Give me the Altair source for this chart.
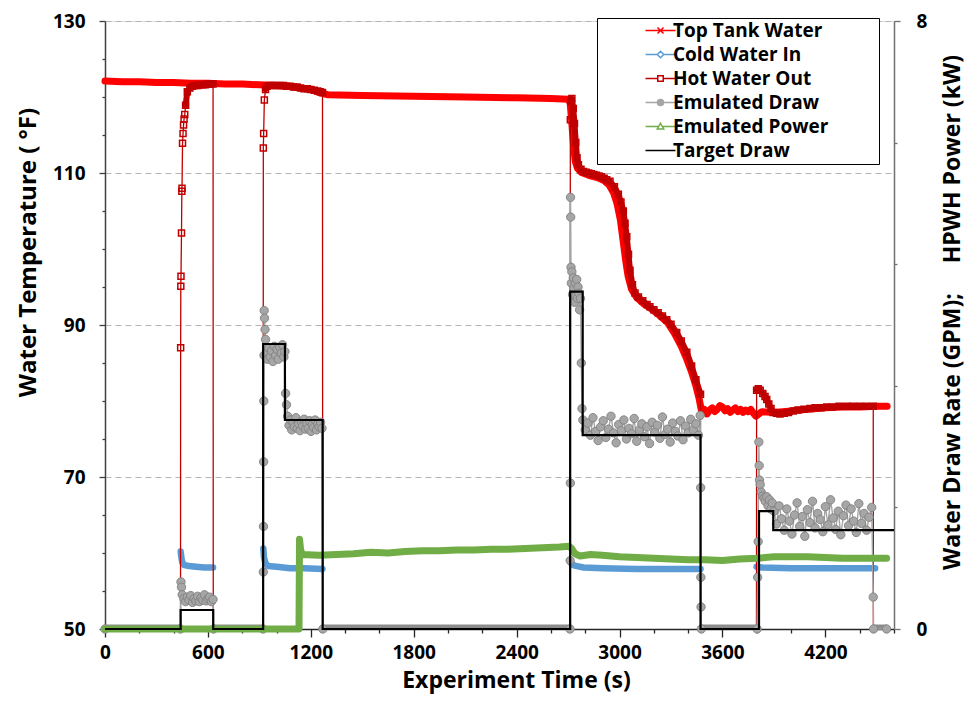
import altair as alt
import pandas as pd

SERIES = ["Top Tank Water", "Cold Water In", "Hot Water Out",
          "Emulated Draw", "Emulated Power", "Target Draw"]
COLORS = ["#FF0000", "#5B9BD5", "#C00000", "#A5A5A5", "#70AD47", "#000000"]
FILLS = ["transparent", "white", "white", "#A6A6A6", "white", "transparent"]
SYMBOLS = [
    "M-3,0H3M-0.6,-0.6L0.6,0.6M-0.6,0.6L0.6,-0.6",
    "M-3,0H-0.65M0.65,0H3M0,-0.65L0.65,0L0,0.65L-0.65,0Z",
    "M-3,0H-0.55M0.55,0H3M-0.55,-0.55H0.55V0.55H-0.55Z",
    "M-3,0H-0.6M0.6,0H3M0.6,0A0.6,0.6,0,1,1,-0.6,0A0.6,0.6,0,1,1,0.6,0Z",
    "M-3,0H-0.37M0.37,0H3M0,-0.65L0.65,0.5H-0.65Z",
    "M-3,0H3",
]

# (time s, °F)
TANK = [(0, 122.1), (100, 122.0), (200, 122.0), (300, 121.9), (400, 121.9), (500, 121.8),
        (600, 121.8), (700, 121.7), (800, 121.7), (900, 121.6), (1000, 121.5), (1100, 121.3),
        (1200, 121.0), (1260, 120.5), (1300, 120.3), (1500, 120.2), (1800, 120.1), (2100, 120.0),
        (2400, 119.9), (2600, 119.8), (2700, 119.7), (2712, 119.2), (2722, 116.5), (2732, 113.5),
        (2742, 111.5), (2755, 110.6), (2775, 110.1), (2820, 109.7), (2870, 109.4), (2910, 109.0),
        (2940, 108.4), (2965, 107.4), (2985, 106.0), (3005, 103.8), (3020, 101.2), (3035, 98.6),
        (3050, 96.4), (3070, 94.7), (3100, 93.6), (3140, 92.8), (3180, 92.2), (3230, 91.3),
        (3280, 90.3), (3320, 88.9), (3360, 87.2), (3390, 85.6), (3420, 83.8), (3445, 82.0),
        (3465, 80.2), (3480, 78.4), (3495, 78.9), (3510, 78.3), (3525, 78.8), (3540, 79.1),
        (3555, 78.6), (3570, 78.9), (3585, 79.4), (3600, 79.2), (3615, 78.7), (3630, 79.0),
        (3645, 78.5), (3660, 78.8), (3675, 79.1), (3690, 78.6), (3705, 78.9), (3720, 78.5),
        (3735, 78.8), (3750, 78.6), (3765, 78.9), (3780, 78.4), (3795, 78.0), (3830, 78.6),
        (3900, 78.5), (4000, 78.7), (4100, 78.9), (4200, 79.1), (4300, 79.2), (4400, 79.2),
        (4500, 79.3), (4560, 79.3)]

HOT = [(0, 0), (439, 0),
       (441, 87.0), (442, 95.1), (443, 96.4), (446, 102.1), (448, 107.6), (449, 108.0),
       (452, 113.9), (455, 115.2), (458, 116.3), (461, 117.1), (465, 117.7), (470, 118.9),
       (480, 120.7), (495, 121.2), (510, 121.4), (525, 121.5), (540, 121.5), (555, 121.6),
       (570, 121.6), (585, 121.6), (600, 121.7), (615, 121.7), (630, 121.7),
       (632, 0), (921, 0),
       (923, 113.3), (925, 115.2), (929, 119.6), (936, 121.0), (945, 121.4), (960, 121.5),
       (980, 121.5), (1000, 121.5), (1020, 121.5), (1040, 121.5), (1060, 121.4), (1080, 121.4),
       (1100, 121.3), (1120, 121.3), (1140, 121.2), (1160, 121.1), (1180, 121.1), (1200, 121.0),
       (1220, 120.9), (1240, 120.8), (1255, 120.7), (1268, 120.6),
       (1270, 0), (2710, 0),
       (2713, 117.0), (2716, 119.4), (2722, 119.8), (2730, 118.5), (2737, 116.5), (2745, 114.0),
       (2752, 112.0), (2760, 111.1), (2775, 110.5), (2790, 110.2), (2805, 110.1), (2820, 110.0),
       (2835, 109.9), (2850, 109.8), (2865, 109.7), (2880, 109.6), (2895, 109.5), (2910, 109.3),
       (2925, 109.1), (2944, 108.9), (2970, 108.2), (2993, 107.2), (3008, 106.2), (3022, 105.0),
       (3032, 103.4), (3042, 101.6), (3052, 99.3), (3061, 97.2), (3075, 95.3), (3090, 94.2),
       (3110, 93.7), (3135, 93.2), (3160, 92.7), (3177, 92.4), (3200, 92.0), (3225, 91.6),
       (3250, 91.2), (3275, 90.7), (3300, 90.1), (3333, 89.0), (3360, 87.9), (3392, 86.4),
       (3420, 84.6), (3445, 82.8), (3472, 80.9),
       (3474, 0), (3797, 0),
       (3799, 81.4), (3809, 81.6), (3820, 81.4), (3835, 81.0), (3848, 80.6), (3858, 80.2),
       (3870, 79.6), (3883, 79.0), (3896, 78.5), (3915, 78.4), (3935, 78.3), (3960, 78.4),
       (3985, 78.5), (4013, 78.7), (4040, 78.8), (4075, 78.9), (4110, 79.0), (4140, 79.1),
       (4175, 79.1), (4208, 79.2), (4240, 79.2), (4280, 79.3), (4324, 79.3), (4360, 79.3),
       (4400, 79.3), (4440, 79.3), (4479, 79.3),
       (4481, 0), (4560, 0)]

# stretches where the hot-water readings are so dense that their markers merge (start s, end s)
HOT_DENSE = [(470, 630), (936, 1268), (2716, 3472), (3799, 4479)]

# (draw no., time s, °F)
COLD = [(1, 441, 60.2), (1, 444, 59.6), (1, 450, 58.8), (1, 462, 58.4), (1, 490, 58.3),
        (1, 530, 58.2), (1, 580, 58.1), (1, 630, 58.1),
        (2, 923, 60.6), (2, 927, 59.4), (2, 935, 58.7), (2, 950, 58.3), (2, 1000, 58.2),
        (2, 1080, 58.0), (2, 1160, 58.0), (2, 1268, 57.9),
        (3, 2713, 58.8), (3, 2722, 58.5), (3, 2745, 58.3), (3, 2790, 58.1), (3, 2900, 58.0),
        (3, 3100, 57.9), (3, 3300, 57.9), (3, 3472, 57.9),
        (4, 3799, 58.2), (4, 3830, 58.1), (4, 4000, 58.0), (4, 4200, 58.0), (4, 4400, 58.0),
        (4, 4490, 58.0)]

# (time s, GPM)
EMU = [(0, 0), (440, 0),
       (443, 0.62), (446, 0.55), (450, 0.45), (460, 0.40), (470, 0.36), (480, 0.42),
       (490, 0.38), (500, 0.44), (510, 0.35), (520, 0.40), (530, 0.37), (540, 0.43),
       (550, 0.36), (560, 0.41), (570, 0.38), (580, 0.45), (590, 0.37), (600, 0.40),
       (610, 0.42), (620, 0.36), (630, 0.39), (633, 0), (921, 0),
       (923, 0.75), (924, 1.35), (925, 2.2), (926, 3.0), (927, 3.6), (928, 4.19), (930, 4.09),
       (933, 3.94), (936, 3.81), (940, 3.62), (947, 3.55), (955, 3.70), (963, 3.58),
       (971, 3.66), (979, 3.52), (987, 3.72), (995, 3.60), (1003, 3.68), (1011, 3.55),
       (1019, 3.71), (1027, 3.63), (1035, 3.74), (1043, 3.58), (1049, 3.65), (1053, 3.1),
       (1058, 2.95), (1065, 2.8), (1073, 2.68), (1081, 2.75), (1089, 2.62), (1097, 2.72),
       (1105, 2.66), (1113, 2.78), (1121, 2.64), (1129, 2.70), (1137, 2.61), (1145, 2.73),
       (1153, 2.67), (1161, 2.76), (1169, 2.63), (1177, 2.70), (1185, 2.64), (1193, 2.74),
       (1201, 2.60), (1209, 2.69), (1217, 2.65), (1225, 2.75), (1233, 2.62), (1241, 2.70),
       (1249, 2.66), (1257, 2.72), (1265, 2.64), (1270, 0), (2711, 0),
       (2712, 0.9), (2713, 1.92), (2714, 5.68), (2715, 5.42), (2717, 4.76), (2719, 4.55),
       (2722, 4.70), (2726, 4.40), (2730, 4.62), (2734, 4.48), (2738, 4.30), (2742, 4.55),
       (2746, 4.38), (2750, 4.60), (2754, 4.35), (2758, 4.50), (2762, 4.42), (2767, 4.20),
       (2772, 4.35), (2777, 3.50), (2781, 2.90), (2786, 2.75),
       (2800, 2.62), (2815, 2.71), (2830, 2.55), (2845, 2.78), (2860, 2.60), (2875, 2.48),
       (2890, 2.66), (2905, 2.74), (2920, 2.52), (2935, 2.63), (2950, 2.80), (2965, 2.58),
       (2980, 2.45), (2995, 2.69), (3010, 2.61), (3025, 2.75), (3040, 2.50), (3055, 2.64),
       (3070, 2.57), (3085, 2.77), (3100, 2.47), (3115, 2.62), (3130, 2.70), (3145, 2.53),
       (3160, 2.66), (3175, 2.44), (3190, 2.72), (3205, 2.59), (3220, 2.68), (3235, 2.51),
       (3250, 2.79), (3265, 2.56), (3280, 2.63), (3295, 2.46), (3310, 2.71), (3325, 2.60),
       (3340, 2.54), (3355, 2.74), (3370, 2.49), (3385, 2.67), (3400, 2.58), (3415, 2.76),
       (3430, 2.62), (3445, 2.70), (3460, 2.55), (3470, 2.81),
       (3473, 1.86), (3474, 0.68), (3475, 0.29), (3477, 0), (3802, 0),
       (3805, 0.68), (3808, 1.15), (3812, 2.46), (3814, 2.15), (3816, 1.96), (3820, 1.90),
       (3826, 1.80), (3834, 1.75), (3842, 1.72), (3850, 1.68), (3858, 1.74), (3866, 1.62),
       (3874, 1.70), (3882, 1.58), (3890, 1.66),
       (3900, 1.55), (3915, 1.38), (3930, 1.62), (3945, 1.45), (3960, 1.30), (3975, 1.58),
       (3990, 1.42), (4005, 1.25), (4020, 1.50), (4035, 1.66), (4050, 1.35), (4065, 1.48),
       (4080, 1.22), (4095, 1.57), (4110, 1.40), (4125, 1.68), (4140, 1.33), (4155, 1.52),
       (4170, 1.44), (4185, 1.28), (4200, 1.61), (4215, 1.37), (4230, 1.70), (4245, 1.46),
       (4260, 1.31), (4275, 1.55), (4290, 1.24), (4305, 1.49), (4320, 1.63), (4335, 1.36),
       (4350, 1.58), (4365, 1.42), (4380, 1.27), (4395, 1.65), (4410, 1.39), (4425, 1.52),
       (4440, 1.30), (4455, 1.47), (4470, 1.60),
       (4479, 0.42), (4481, 0), (4557, 0)]

# periods where the emulated draw sits at zero (start s, end s)
EMU_ZERO_RUNS = [(0, 440), (633, 921), (1270, 2711), (3477, 3802), (4481, 4557)]

# (time s, kW)
POWER = [(0, 0), (300, 0), (600, 0), (900, 0), (1131, 0), (1134, 1.18), (1140, 1.05),
         (1150, 0.98), (1250, 0.97), (1350, 0.98), (1450, 0.99), (1550, 1.01), (1650, 1.00),
         (1750, 1.02), (1850, 1.03), (1950, 1.03), (2050, 1.04), (2150, 1.04), (2250, 1.05),
         (2350, 1.05), (2450, 1.06), (2550, 1.07), (2650, 1.08), (2705, 1.09), (2720, 1.06),
         (2740, 0.99), (2770, 0.96), (2830, 0.98), (2900, 0.97), (3000, 0.95), (3100, 0.94),
         (3200, 0.93), (3300, 0.92), (3400, 0.91), (3500, 0.91), (3600, 0.90), (3700, 0.92),
         (3800, 0.93), (3900, 0.95), (4000, 0.95), (4100, 0.95), (4200, 0.94), (4300, 0.93),
         (4400, 0.93), (4500, 0.93), (4557, 0.93)]

# step changes (time s, GPM)
TARGET = [(0, 0), (441, 0.25), (631, 0), (922, 3.75), (1049, 2.75), (1269, 0),
          (2712, 4.44), (2785, 2.55), (3472, 0), (3813, 1.55), (3896, 1.30), (4600, 1.30)]

X_TICKS = list(range(0, 4601, 200))
YL_TICKS = list(range(50, 131, 5))
YR_TICKS = [round(i * 0.4, 1) for i in range(21)]

FONT = "Open Sans"

tank_df = pd.DataFrame(TANK, columns=["t", "v"])
hot_df = pd.DataFrame(HOT, columns=["t", "v"])
band_rows = []
for k, (a, b) in enumerate(HOT_DENSE):
    for t, v in HOT:
        if a <= t <= b:
            band_rows.append((k, t, v))
hot_band_df = pd.DataFrame(band_rows, columns=["seg", "t", "v"])
cold_df = pd.DataFrame(COLD, columns=["seg", "t", "v"])
emu_df = pd.DataFrame(EMU, columns=["t", "v"])
zero_df = pd.DataFrame(EMU_ZERO_RUNS, columns=["t", "t2"])
power_df = pd.DataFrame(POWER, columns=["t", "v"])
target_df = pd.DataFrame(TARGET, columns=["t", "v"])
legend_df = pd.DataFrame({"series": SERIES})

x_axis = alt.Axis(
    values=X_TICKS, format="d",
    labelExpr="datum.value % 600 === 0 ? datum.label : ''",
    tickSize={"condition": {"test": "datum.value % 600 === 0", "value": 8}, "value": 4},
    labelFlush=False, labelOverlap=False, grid=False,
    labelFont=FONT, labelFontSize=19, labelFontWeight="bold", labelColor="black",
    labelPadding=6,
    title="Experiment Time (s)", titleFont=FONT, titleFontSize=23, titleFontWeight="bold",
    titleColor="black", titlePadding=7, titleX=411, titleAlign="center",
    domainColor="#262626", domainWidth=1.5, tickColor="#262626", tickWidth=1.3,
)
X = alt.X("t:Q", scale=alt.Scale(domain=[0, 4600], nice=False, zero=False), axis=x_axis)

yl_axis = alt.Axis(
    orient="left", values=YL_TICKS, format="d",
    labelExpr="(datum.value - 50) % 20 === 0 ? datum.label : ''",
    tickSize={"condition": {"test": "(datum.value - 50) % 20 === 0", "value": 6}, "value": 3},
    grid=True,
    gridOpacity={"condition": {"test": "(datum.value - 50) % 20 === 0 && datum.value > 50", "value": 1}, "value": 0},
    gridColor="#B4B4B4", gridDash=[6, 4], gridWidth=1.2,
    labelFlush=False, labelOverlap=False,
    labelFont=FONT, labelFontSize=19, labelFontWeight="bold", labelColor="black",
    labelPadding=14,
    title="Water Temperature ( °F)", titleFont=FONT, titleFontSize=24, titleFontWeight="bold",
    titleColor="black", titlePadding=12, titleY=231, titleAlign="center", titleAngle=270,
    domainColor="#404040", domainWidth=1.5, tickColor="#404040", tickWidth=1.3,
)
YL = alt.Y("v:Q", scale=alt.Scale(domain=[50, 130], nice=False, zero=False), axis=yl_axis)

yr_axis = alt.Axis(
    orient="right", values=YR_TICKS, format="d",
    labelExpr="abs(datum.value % 2) < 0.001 ? datum.label : ''",
    tickSize={"condition": {"test": "abs(datum.value % 2) < 0.001", "value": 6}, "value": 3},
    grid=False, labelFlush=False, labelOverlap=False,
    labelFont=FONT, labelFontSize=19, labelFontWeight="bold", labelColor="black",
    labelPadding=16,
    title="Water Draw Rate (GPM);" + "\u00a0" * 5 + "HPWH Power (kW)",
    titleFont=FONT, titleFontSize=23, titleFontWeight="bold", titleColor="black",
    titlePadding=38, titleY=291, titleAlign="center", titleAngle=270,
    domainColor="#707070", domainWidth=1.5, tickColor="#707070", tickWidth=1.3,
)
YR = alt.Y("v:Q", scale=alt.Scale(domain=[0, 8], nice=False, zero=True), axis=yr_axis)

LEG = alt.Legend(
    title=None, orient="none", legendX=492, legendY=-3,
    strokeColor="black", fillColor="white", padding=3,
    labelFont=FONT, labelFontSize=19, labelFontWeight="bold", labelColor="black",
    labelExpr="datum.label + '\u2003\u2003\u2002\u200b'", labelLimit=400,
    symbolSize=100, symbolStrokeWidth=1.5, symbolOffset=51, labelOffset=3,
    rowPadding=4,
)

# ---- left (temperature) layers ----
tank = alt.Chart(tank_df).mark_line(color="#FF0000", strokeWidth=7, strokeJoin="round",
                                    strokeCap="round").encode(x=X, y=YL)
cold = alt.Chart(cold_df).mark_line(color="#5B9BD5", strokeWidth=6.5, strokeCap="round",
                                    strokeJoin="round").encode(x=X, y=YL, detail="seg:N")
hot_line = alt.Chart(hot_df).mark_line(color="#C00000", strokeWidth=1.3, clip=True).encode(x=X, y=YL)
hot_band = alt.Chart(hot_band_df).mark_line(color="#C00000", strokeWidth=6, strokeJoin="round",
                                            strokeCap="round").encode(x=X, y=YL, detail="seg:N")
hot_pts = alt.Chart(hot_df).mark_point(shape="square", filled=False, color="#C00000",
                                       size=36, strokeWidth=1.5, opacity=1, clip=True).encode(x=X, y=YL)
legend_layer = alt.Chart(legend_df).transform_filter("false").mark_point(
    filled=False, opacity=1).encode(
    x=alt.value(0), y=alt.value(0),
    color=alt.Color("series:N", scale=alt.Scale(domain=SERIES, range=COLORS), legend=LEG),
    shape=alt.Shape("series:N", scale=alt.Scale(domain=SERIES, range=SYMBOLS), legend=LEG),
    fill=alt.Fill("series:N", scale=alt.Scale(domain=SERIES, range=FILLS), legend=LEG),
)
left = alt.layer(tank, cold, hot_line, hot_band, hot_pts, legend_layer)

# ---- right (draw rate / power) layers ----
zero_band = alt.Chart(zero_df).mark_rule(color="#8C8C8C", strokeWidth=9, clip=True).encode(
    x=X, x2="t2:Q", y=alt.Y("z:Q", scale=alt.Scale(domain=[0, 8], nice=False), axis=yr_axis)
).transform_calculate(z="0")
emu_line = alt.Chart(emu_df).mark_line(color="#A5A5A5", strokeWidth=1.4).encode(x=X, y=YR)
emu_pts = alt.Chart(emu_df).mark_point(shape="circle", filled=True, fill="#A6A6A6",
                                       stroke="#808080", strokeWidth=0.9, size=70,
                                       opacity=1).encode(x=X, y=YR)
power = alt.Chart(power_df).mark_line(color="#70AD47", strokeWidth=7, strokeJoin="round",
                                      strokeCap="round").encode(x=X, y=YR)
target = alt.Chart(target_df).mark_line(color="black", strokeWidth=2.2,
                                        interpolate="step-after").encode(x=X, y=YR)
right = alt.layer(zero_band, emu_line, emu_pts, power, target)

chart = alt.layer(left, right).resolve_scale(y="independent").properties(
    width=789, height=608,
    autosize=alt.AutoSizeParams(type="none"),
    padding={"left": 97, "top": 13, "right": 72, "bottom": 66},
).configure_view(stroke="#A0A0A0", strokeWidth=1.5).configure(background="white")

chart.save("out.html", embed_options={"renderer": "svg", "actions": False})
